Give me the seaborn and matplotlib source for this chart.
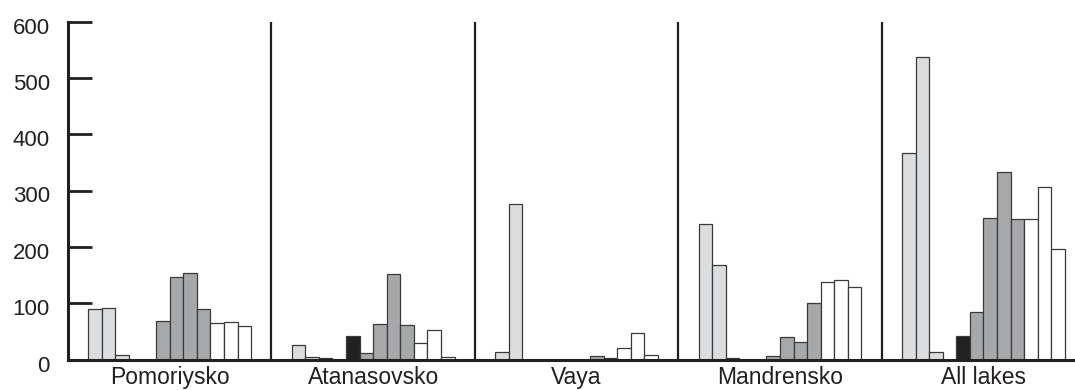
import numpy as np
import pandas as pd
import matplotlib
matplotlib.use("Agg")
import matplotlib.pyplot as plt
import matplotlib.transforms as mtransforms
import seaborn as sns

sns.set_style("white")
plt.rcParams["font.family"] = ["Liberation Sans", "DejaVu Sans"]

lakes = ["Pomoriysko", "Atanasovsko", "Vaya", "Mandrensko", "All lakes"]

# Twelve bar slots per lake: three light grey, one empty slot, one black,
# four dark grey and three white.
slots = [f"s{i:02d}" for i in range(1, 13)]
slot_colors = ["#dcdddf", "#dcdddf", "#dcdddf", "#ffffff", "#231f20",
               "#a6a8ab", "#a6a8ab", "#a6a8ab", "#a6a8ab",
               "#ffffff", "#ffffff", "#ffffff"]

pomoriysko = [89, 91, 8, np.nan, 0, 69, 146, 153, 90, 65, 67, 59]
atanasovsko = [25, 5, 2, np.nan, 41, 11, 63, 151, 61, 30, 53, 5]
vaya = [14, 276, 0, np.nan, 0, 0, 0, 7, 2, 21, 47, 8]
mandrensko = [240, 167, 3, np.nan, 0, 7, 40, 31, 101, 137, 142, 128]
all_lakes = [367, 537, 13, np.nan, 41, 84, 252, 333, 250, 249, 306, 197]

yticks = [0, 100, 200, 300, 400, 500, 600]

values = [pomoriysko, atanasovsko, vaya, mandrensko, all_lakes]
df = pd.DataFrame(
    [(lake, slot, v) for lake, vals in zip(lakes, values)
     for slot, v in zip(slots, vals)],
    columns=["lake", "slot", "value"],
)

fig = plt.figure(figsize=(10.75, 3.9), dpi=100)
ax = fig.add_axes([68 / 1075, 30.5 / 390, (1073 - 68) / 1075, 338 / 390])

sns.barplot(
    data=df, x="lake", y="value", hue="slot", order=lakes, hue_order=slots,
    palette=dict(zip(slots, slot_colors)), errorbar=None, width=0.8,
    edgecolor="#3a3a3a", linewidth=0.9, legend=False, ax=ax,
)

# hide the empty slot entirely
for patch in ax.patches:
    if np.isnan(patch.get_height()):
        patch.set_visible(False)

ax.set_ylim(0, 600)
ax.set_xlim(-0.5, 4.44)
ax.set_yticks(yticks)
ax.set_yticklabels([str(t) for t in yticks])
ax.set_xlabel("")
ax.set_ylabel("")

# vertical separators between lakes
for x in [0.5, 1.5, 2.5, 3.5]:
    ax.plot([x, x], [0, 600], color="#231f20", lw=1.6, solid_capstyle="butt",
            zorder=5)

for side in ["top", "right"]:
    ax.spines[side].set_visible(False)
for side in ["left", "bottom"]:
    ax.spines[side].set_color("#231f20")
    ax.spines[side].set_linewidth(2.2)

ax.tick_params(axis="y", left=True, direction="in", length=17.5, width=2.0,
               color="#231f20", labelsize=16, labelcolor="#231f20", pad=13)
ax.tick_params(axis="x", bottom=False, length=0, labelsize=16.5,
               labelcolor="#231f20", pad=5)

# y labels sit slightly below their ticks
shift = mtransforms.ScaledTranslation(0, -4 / 100, fig.dpi_scale_trans)
for lab in ax.get_yticklabels():
    lab.set_transform(lab.get_transform() + shift)

fig.savefig("out.png", dpi=100)
